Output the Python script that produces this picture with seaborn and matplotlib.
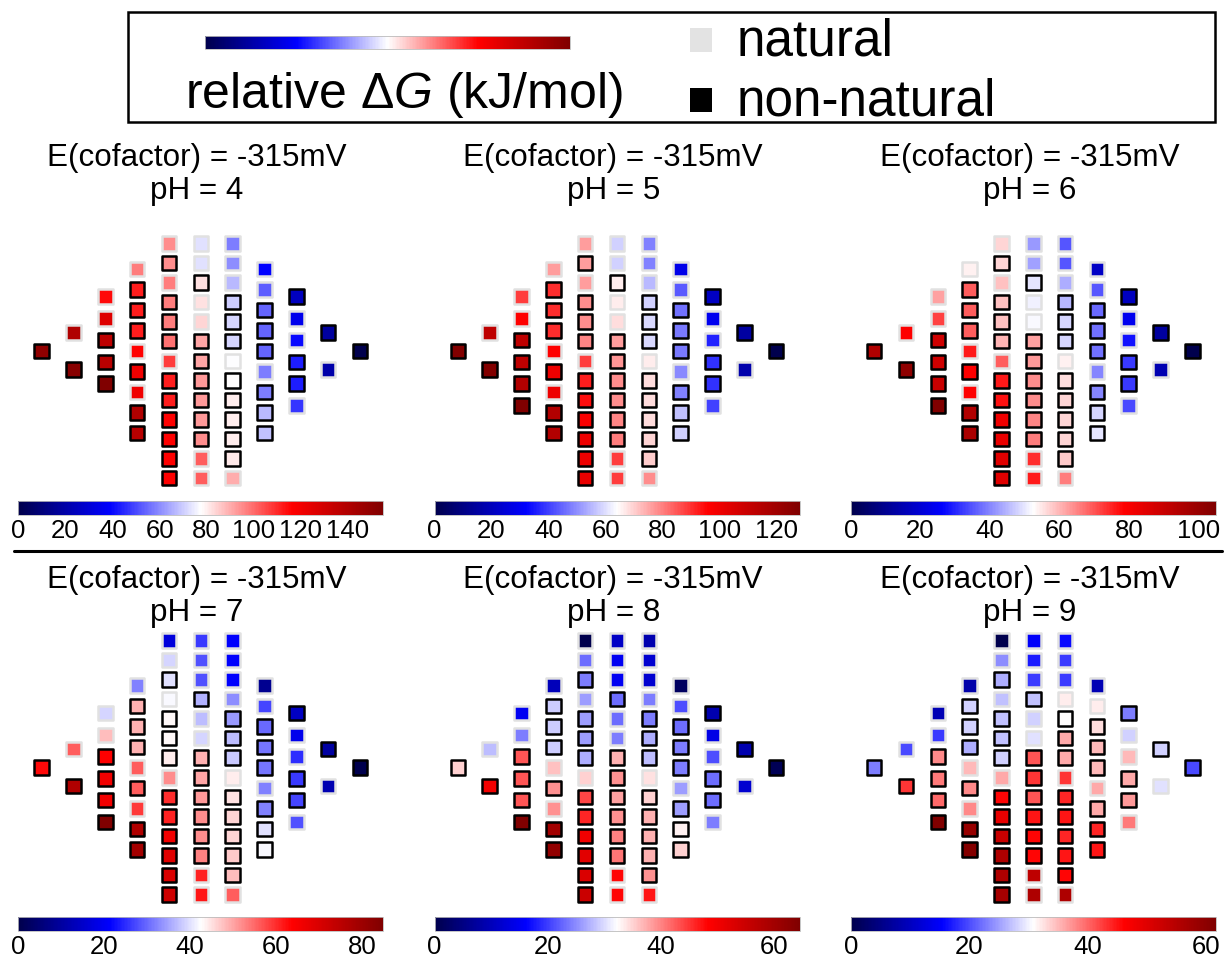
import numpy as np
import pandas as pd
import matplotlib
matplotlib.use("Agg")
import matplotlib.pyplot as plt
import seaborn as sns
from matplotlib.colors import Normalize
from matplotlib.cm import ScalarMappable
from matplotlib.ticker import MultipleLocator
from matplotlib.patches import Rectangle
from matplotlib.lines import Line2D

sns.set_theme(style="white")
plt.rcParams['font.family'] = ['Liberation Sans', 'DejaVu Sans']
plt.rcParams['mathtext.fontset'] = 'custom'
plt.rcParams['mathtext.rm'] = 'Liberation Sans'
plt.rcParams['mathtext.it'] = 'Liberation Sans:italic'
plt.rcParams['text.color'] = 'black'
plt.rcParams['xtick.color'] = 'black'
plt.rcParams['xtick.labelcolor'] = 'black'
plt.rcParams['axes.labelcolor'] = 'black'

nan = np.nan

# ---------------- data ----------------
E_COFACTOR = "-315mV"
PH_VALUES = [4, 5, 6, 7, 8, 9]

# 1 = natural, 0 = non-natural (same compounds in every panel), top to bottom per column
NATURAL = [
    [0],
    [1, 0],
    [1, 1, 0, 0, 0, 0],
    [1, 0, 0, 0, 1, 0, 1, 0, 0],
    [1, 1, 0, 1, 0, 0, 0, 1, 0, 0, 0, 0, 0, 0],
    [1, 1, 1, 0, 1, 1, 0, 0, 0, 0, 0, 0, 1, 1],
    [1, 1, 1, 1, 0, 0, 0, 1, 0, 0, 0, 0, 0, 1],
    [1, 1, 0, 0, 0, 1, 0, 0, 0],
    [0, 1, 1, 0, 0, 1],
    [0, 1],
    [0],
]

# relative dG (kJ/mol), per column, top to bottom
dG_pH4 = [
    [150],
    [140, 152],
    [115, 126, 136, 138, 155, nan],
    [97, 112, 112, 112, 116, 121, 121, 140, 138],
    [nan, 95, 95, 97, 97, 97, 99, 107, 112, 112, 116, 116, 116, 116],
    [nan, 73, 73, 82, 82, 84, 91, 91, 93, 93, 93, 95, 102, 102],
    [nan, 58, 60, 67, 70, 71, 71, 77, 78, 80, 80, 80, 81, 90],
    [39, 53, 54, 54, 54, 58, 58, 67, 68],
    [25, 35, 40, 43, 43, 47],
    [18, 20],
    [0],
]
dG_pH5 = [
    [127],
    [112, 127],
    [88, 96, 112, 112, 115, 128],
    [76, 90, 90, 90, 96, 100, 100, 115, 115],
    [nan, 76, 76, 76, 78, 78, 79, 88, 92, 94, 97, 100, 100, 101],
    [nan, 58, 58, 66, 66, 68, 76, 77, 78, 78, 79, 80, 88, 88],
    [nan, 48, 48, 55, 58, 59, 59, 66, 68, 68, 68, 69, 70, 78],
    [28, 43, 46, 47, 47, 49, 48, 56, 58],
    [21, 29, 36, 38, 38, 40],
    [15, 17],
    [0],
]
dG_pH6 = [
    [95],
    [79, 102],
    [62, 72, 89, 89, 90, 105],
    [54, 69, 69, 69, 76, 79, 79, 95, 96],
    [nan, 57, 57, 59, 59, 59, 60, 69, 76, 77, 82, 83, 85, 85],
    [nan, 42, 43, 50, 51, 52, 62, 63, 64, 64, 65, 66, 74, 76],
    [nan, 35, 35, 44, 45, 48, 48, 54, 56, 57, 57, 57, 58, 66],
    [18, 35, 37, 38, 38, 40, 40, 48, 50],
    [17, 24, 28, 32, 32, 34],
    [12, 15],
    [0],
]
dG_pH7 = [
    [63],
    [56, 77],
    [39, 48, 64, 66, 66, 85],
    [32, 49, 49, 49, 56, 56, 59, 77, 79],
    [17, 39, 40, 42, 43, 43, 44, 52, 60, 61, 66, 69, 70, 72],
    [26, 28, 28, 36, 37, 39, 49, 50, 51, 52, 52, 53, 61, 62],
    [21, 21, 21, 33, 34, 37, 38, 44, 45, 46, 46, 47, 48, 56],
    [8, 27, 30, 31, 31, 32, 32, 40, 42],
    [14, 19, 25, 26, 27, 28],
    [10, 12],
    [0],
]
dG_pH8 = [
    [35],
    [28, 50],
    [15, 24, 43, 43, 43, 64.4],
    [10, 29, 29, 29, 36, 39, 39, 60, 62],
    [0, 23, 24, 26, 26, 26, 27, 35, 44, 46, 50, 52, 53, 55],
    [11, 15, 15, 23, 23, 24, 37, 39, 38, 39, 40, 41, 48, 48],
    [9, 12, 12, 24, 24, 27, 28, 34, 35, 37, 37, 37, 39, 47],
    [2, 21, 23, 24, 24, 26, 26, 33, 35],
    [9, 14, 21, 23, 23, 24],
    [9, 12],
    [1],
]
dG_pH9 = [
    [23],
    [20, 43],
    [9, 19, 38, 39, 40, 61.7],
    [8, 28, 28, 26, 35, 38, 38, 59, 61],
    [0, 24, 26, 27, 27, 27, 28, 36, 46, 49, 53, 56, 56, 57],
    [15, 17, 19, 27, 28, 29, 41, 43, 41, 45, 46, 46, 54, 56],
    [16, 19, 19, 32, 31, 36, 36, 43, 44, 45, 44, 45, 46, 56],
    [9, 32, 33, 35, 35, 36, 36, 44, 45],
    [23, 28, 35, 36, 37, 39],
    [28, 29],
    [20],
]
PANELS = [dG_pH4, dG_pH5, dG_pH6, dG_pH7, dG_pH8, dG_pH9]

# ---------------- layout / style ----------------
W, H = 1225, 958
COL_PX = 31.83                      # horizontal pitch of the columns (px)
ROW_PITCH = [1.0, 1.153, 0.682, 0.644, 0.614, 0.614, 0.614, 0.644, 0.682, 1.153, 1.0]  # in column units
PANEL_DX = 416.2
CMAP = "seismic"
NAT_EDGE = "#e1e1e1"
MARKER_S = 109
EDGE_LW = 1.8


def fx(px):
    return px / W


def fy(py):
    return 1 - py / H


def panel_frame(values):
    rows = []
    for ci, (col_vals, col_nat) in enumerate(zip(values, NATURAL)):
        n = len(col_vals)
        for i, (v, nat) in enumerate(zip(col_vals, col_nat)):
            rows.append({"x": ci, "y": ((n - 1) / 2 - i) * ROW_PITCH[ci],
                         "dG": v, "natural": nat})
    return pd.DataFrame(rows).dropna(subset=["dG"])


fig = plt.figure(figsize=(W / 100, H / 100), dpi=100)

for p, (vals, ph) in enumerate(zip(PANELS, PH_VALUES)):
    r, c = divmod(p, 3)
    center_y = 351 if r == 0 else 767.5
    half = 4.3
    left = 41.7 - 0.6 * COL_PX + PANEL_DX * c
    ax = fig.add_axes([fx(left), fy(center_y + half * COL_PX),
                       11.2 * COL_PX / W, 2 * half * COL_PX / H])
    df = panel_frame(vals)
    vmax = df["dG"].max()
    for nat, edge in [(1, NAT_EDGE), (0, "black")]:
        sub = df[df["natural"] == nat]
        sns.scatterplot(data=sub, x="x", y="y", hue="dG", palette=CMAP,
                        hue_norm=(0, vmax), marker="s", s=MARKER_S,
                        edgecolor=edge, linewidth=EDGE_LW, legend=False, ax=ax)
    ax.set_xlim(-0.6, 10.6)
    ax.set_ylim(-half, half)
    ax.axis("off")

    # colorbar
    cb_top = 500.7 if r == 0 else 916.7
    cax = fig.add_axes([fx(18.3 + PANEL_DX * c), fy(cb_top + 14), 365 / W, 14 / H])
    sm = ScalarMappable(norm=Normalize(0, vmax), cmap=CMAP)
    cb = fig.colorbar(sm, cax=cax, orientation="horizontal")
    cb.locator = MultipleLocator(20)
    cb.update_ticks()
    cax.tick_params(length=0, labelsize=18.5, pad=3, colors="black")
    cb.outline.set_linewidth(0.6)
    cb.outline.set_edgecolor("#bbbbbb")

    # titles
    t_y = 158 if r == 0 else 580
    fig.text(fx(197 + PANEL_DX * c), fy(t_y), f"E(cofactor) = {E_COFACTOR}",
             ha="center", va="center", fontsize=22.6, color="black")
    fig.text(fx(197 + PANEL_DX * c), fy(t_y + 33), f"pH = {ph}",
             ha="center", va="center", fontsize=22.6, color="black")

# divider line
fig.add_artist(Line2D([fx(14), fx(1222)], [fy(551), fy(551)], color="black",
                      lw=2.2, transform=fig.transFigure))

# legend box
fig.add_artist(Rectangle((fx(128), fy(122)), (1215 - 128) / W, (122 - 12) / H,
                         fill=False, edgecolor="black", lw=1.8,
                         transform=fig.transFigure))
lcax = fig.add_axes([fx(205), fy(49), 365 / W, 13 / H])
lcb = fig.colorbar(ScalarMappable(norm=Normalize(0, 1), cmap=CMAP), cax=lcax,
                   orientation="horizontal")
lcb.set_ticks([])
lcb.outline.set_linewidth(0.6)
lcb.outline.set_edgecolor("#bbbbbb")
fig.text(fx(404), fy(108), r"relative $\Delta\mathit{G}$ (kJ/mol)",
         ha="center", va="baseline", fontsize=36, color="black")
fig.add_artist(Rectangle((fx(690), fy(52)), 22 / W, 24 / H, facecolor="#e3e3e3",
                         edgecolor="none", transform=fig.transFigure))
fig.add_artist(Rectangle((fx(690), fy(112)), 22 / W, 24 / H, facecolor="black",
                         edgecolor="none", transform=fig.transFigure))
fig.text(fx(737), fy(55), "natural", ha="left", va="baseline", fontsize=37, color="black")
fig.text(fx(737), fy(116), "non-natural", ha="left", va="baseline", fontsize=37, color="black")

fig.savefig("out.png", dpi=100)
